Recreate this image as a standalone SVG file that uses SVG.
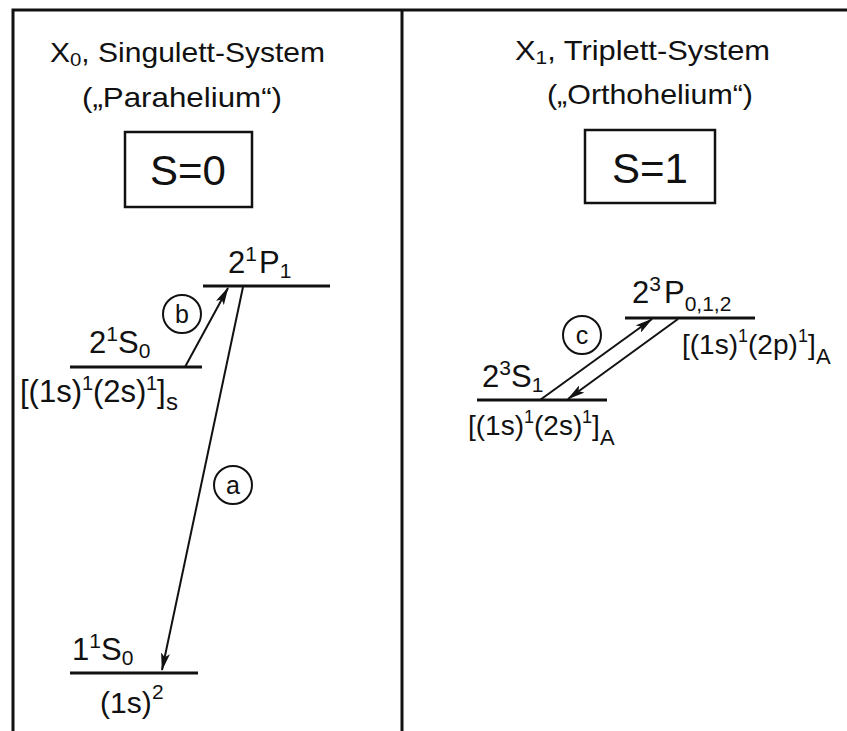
<svg xmlns="http://www.w3.org/2000/svg" width="847" height="731" viewBox="0 0 847 731">
<defs>
<style>
text{font-family:"Liberation Sans",Arial,sans-serif;fill:#111}
.t{font-size:28px}
.lv{font-size:31px}
.sup{font-size:19px}
.big{font-size:42px}
.lvl{stroke:#111;stroke-width:3;fill:none}
.arr{stroke:#111;stroke-width:2;fill:none}
.frame{stroke:#111;stroke-width:3;fill:none}
.circ{stroke:#111;stroke-width:2;fill:none}
</style>
<marker id="ah" viewBox="0 0 18 9" refX="17" refY="4.5" markerWidth="18" markerHeight="9" markerUnits="userSpaceOnUse" orient="auto">
<path d="M0,0 L18,4.5 L0,9 L4,4.5 Z" fill="#111"/>
</marker>
</defs>
<rect width="847" height="731" fill="#fff"/>
<g id="frame">
<path class="frame" d="M13,731 L13,10 L847,10"/>
<path class="frame" d="M402,10 L402,731"/>
</g>
<g id="left-header">
<text class="t" x="50" y="62" textLength="275" lengthAdjust="spacingAndGlyphs">X<tspan font-size="19" dy="4">0</tspan><tspan dy="-4">, Singulett-System</tspan></text>
<text class="t" x="82" y="107" textLength="200" lengthAdjust="spacingAndGlyphs">(„Parahelium“)</text>
<rect x="125" y="132" width="127" height="75" fill="none" stroke="#111" stroke-width="2.5"/>
<text class="big" x="188" y="185" text-anchor="middle">S=0</text>
</g>
<g id="right-header">
<text class="t" x="515" y="60" textLength="255" lengthAdjust="spacingAndGlyphs">X<tspan font-size="19" dy="4">1</tspan><tspan dy="-4">, Triplett-System</tspan></text>
<text class="t" x="547" y="104" textLength="206" lengthAdjust="spacingAndGlyphs">(„Orthohelium“)</text>
<rect x="585" y="130" width="130" height="73" fill="none" stroke="#111" stroke-width="2.5"/>
<text class="big" x="650" y="183" text-anchor="middle">S=1</text>
</g>
<g id="level-21P1">
<line class="lvl" x1="203" y1="286" x2="330" y2="286"/>
<text class="lv" x="228" y="273">2<tspan font-size="21" dy="-12">1</tspan><tspan dy="12" dx="2">P</tspan><tspan font-size="21" dy="5">1</tspan></text>
</g>
<g id="level-21S0">
<line class="lvl" x1="70" y1="367" x2="202" y2="367"/>
<text class="lv" x="89" y="353">2<tspan font-size="21" dy="-12">1</tspan><tspan dy="12">S</tspan><tspan font-size="21" dy="5">0</tspan></text>
<g id="config-21S0" font-size="31">
<text x="20" y="402">[(1s)</text>
<text x="82" y="390" font-size="20">1</text>
<text x="93" y="402">(2s)</text>
<text x="146" y="390" font-size="20">1</text>
<text x="157" y="402">]</text>
<text x="166" y="410" font-size="24">s</text>
</g>
</g>
<g id="level-11S0">
<line class="lvl" x1="70" y1="673" x2="198" y2="673"/>
<text class="lv" x="72" y="660">1<tspan font-size="21" dy="-12">1</tspan><tspan dy="12">S</tspan><tspan font-size="21" dy="5">0</tspan></text>
<text x="100" y="713" font-size="30">(1s)</text>
<text x="152" y="699" font-size="21">2</text>
</g>
<g id="level-23P012">
<line class="lvl" x1="625" y1="318" x2="755" y2="318"/>
<text class="lv" x="632" y="303">2<tspan font-size="21" dy="-12">3</tspan><tspan dy="12" dx="3">P</tspan><tspan font-size="21" dy="8">0,1,2</tspan></text>
<g id="config-23P" font-size="28">
<text x="682" y="354">[(1s)</text>
<text x="738" y="342" font-size="18">1</text>
<text x="748" y="354">(2p)</text>
<text x="798" y="342" font-size="18">1</text>
<text x="808" y="354">]</text>
<text x="816" y="364" font-size="22">A</text>
</g>
</g>
<g id="level-23S1">
<line class="lvl" x1="477" y1="400" x2="607" y2="400"/>
<text class="lv" x="482" y="387">2<tspan font-size="21" dy="-12">3</tspan><tspan dy="12">S</tspan><tspan font-size="21" dy="5">1</tspan></text>
<g id="config-23S" font-size="28">
<text x="468" y="435">[(1s)</text>
<text x="524" y="423" font-size="18">1</text>
<text x="534" y="435">(2s)</text>
<text x="582" y="423" font-size="18">1</text>
<text x="592" y="435">]</text>
<text x="600" y="445" font-size="22">A</text>
</g>
</g>
<g id="connectors">
<line class="arr" x1="185" y1="367" x2="228" y2="288" marker-end="url(#ah)"/>
<line class="arr" x1="243" y1="287" x2="162" y2="670" marker-end="url(#ah)"/>
<line class="arr" x1="540" y1="400" x2="652" y2="319" marker-end="url(#ah)"/>
<line class="arr" x1="678" y1="319" x2="568" y2="399" marker-end="url(#ah)"/>
</g>
<g id="label-a">
<circle class="circ" cx="233" cy="485" r="19"/>
<text x="233" y="494" text-anchor="middle" font-size="25">a</text>
</g>
<g id="label-b">
<circle class="circ" cx="182" cy="314" r="19"/>
<text x="182" y="323" text-anchor="middle" font-size="25">b</text>
</g>
<g id="label-c">
<circle class="circ" cx="582" cy="335" r="19"/>
<text x="582" y="344" text-anchor="middle" font-size="25">c</text>
</g>
</svg>
